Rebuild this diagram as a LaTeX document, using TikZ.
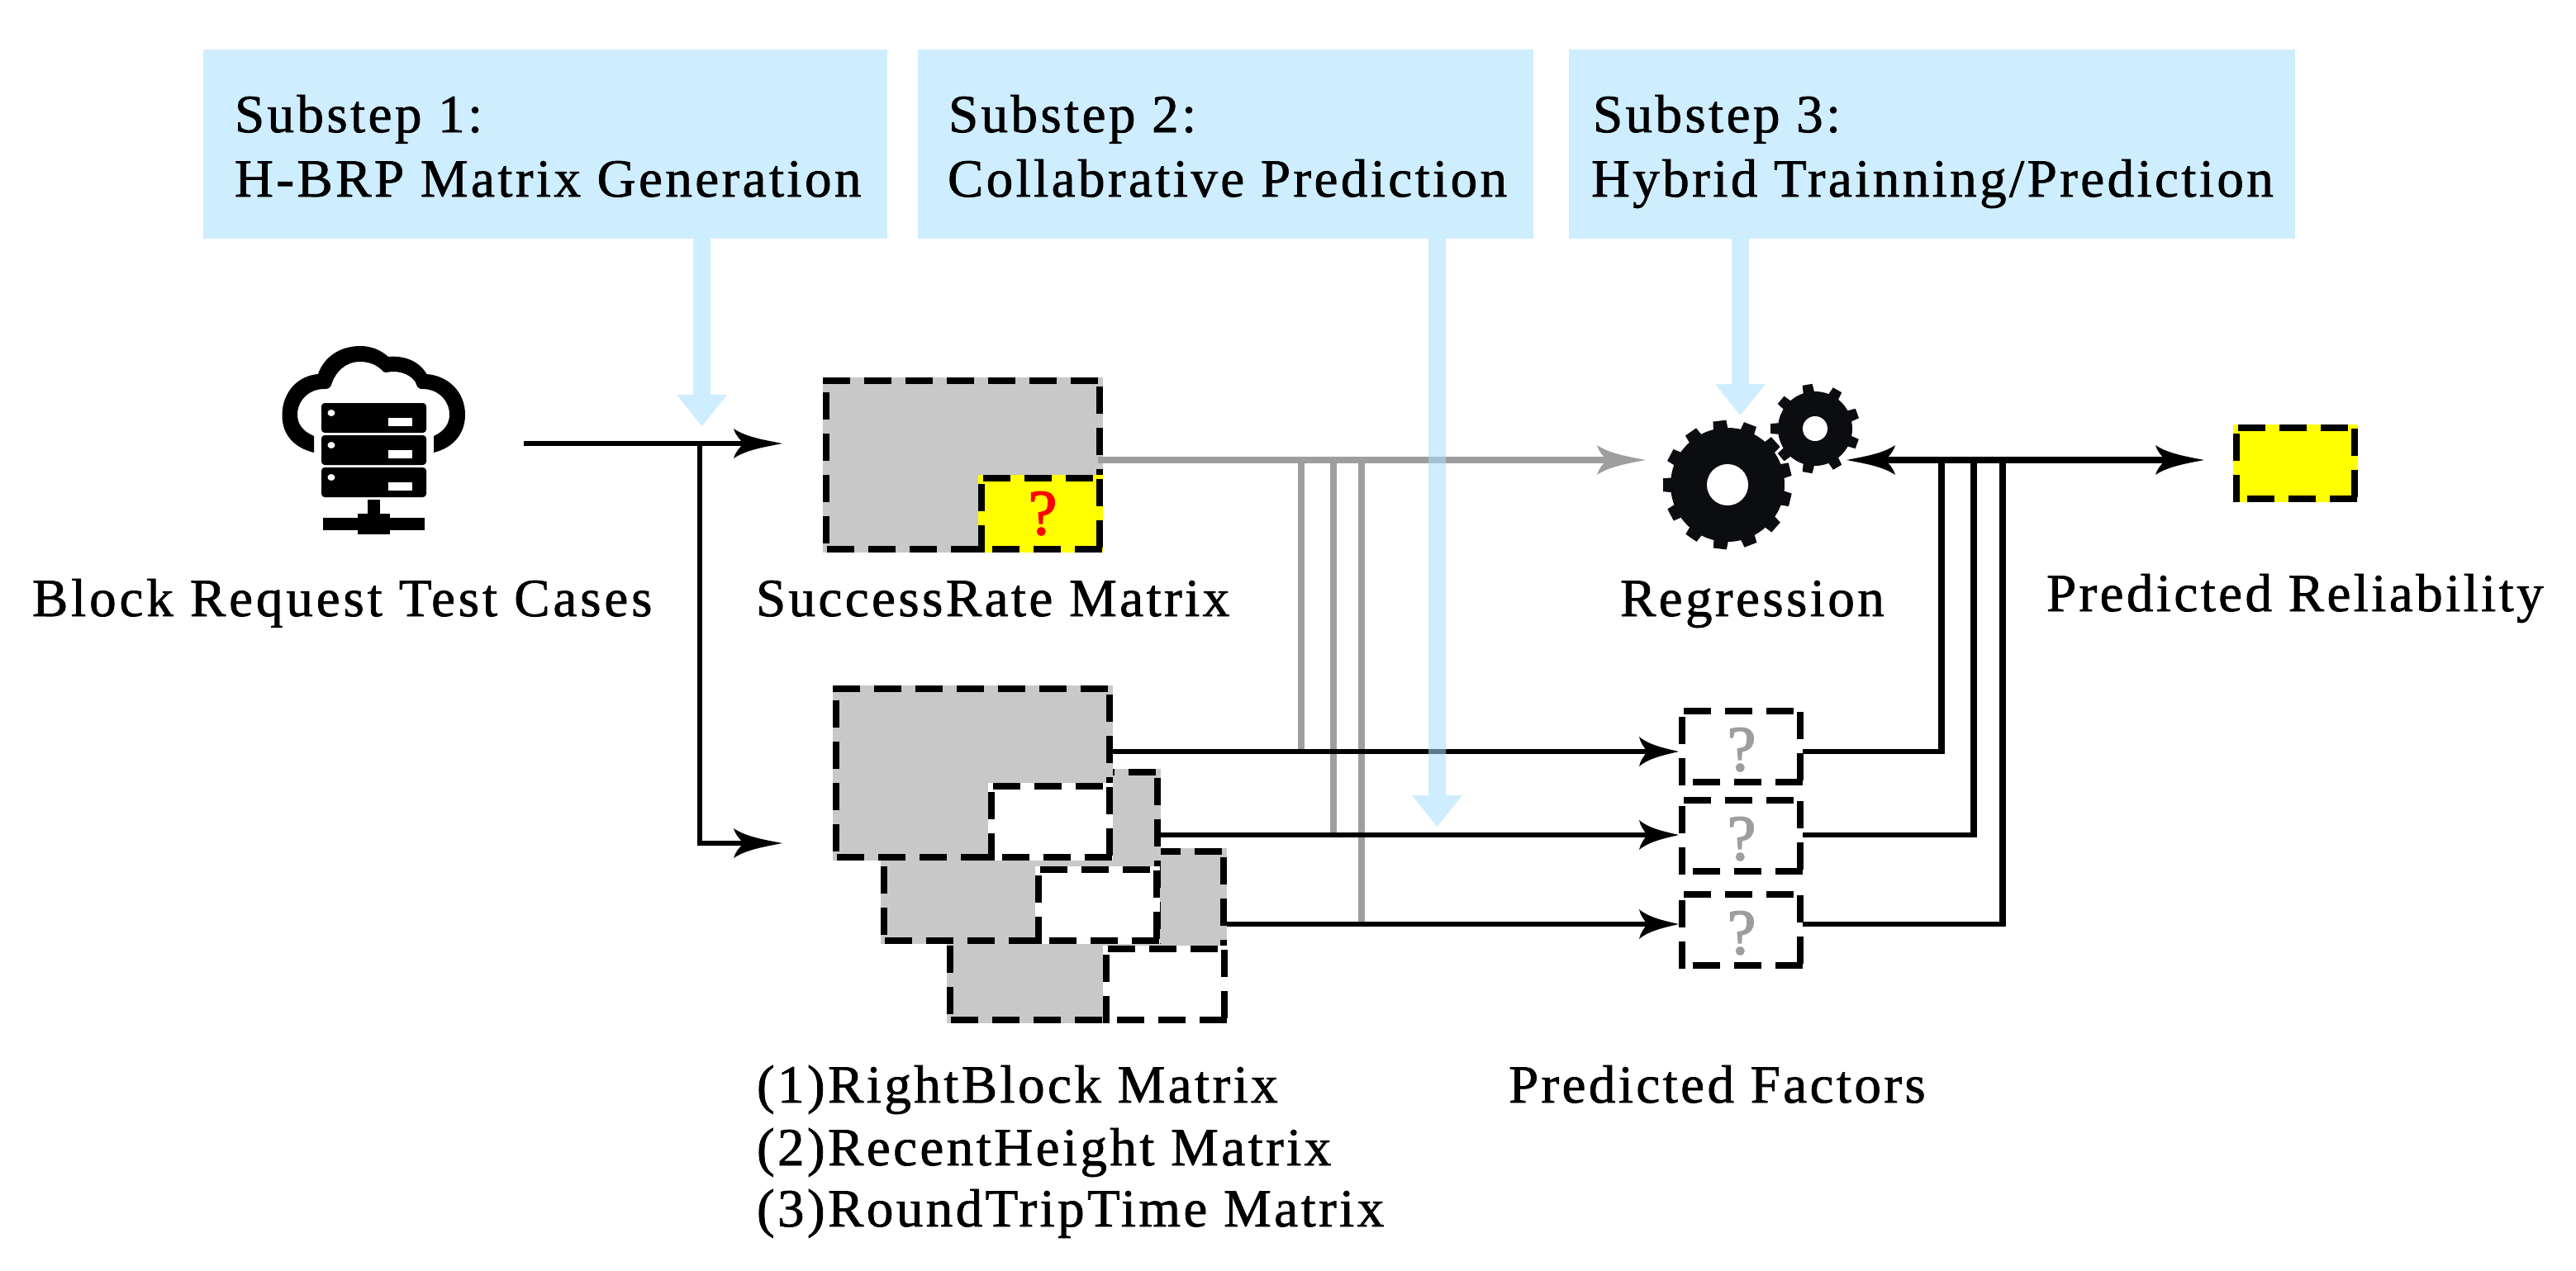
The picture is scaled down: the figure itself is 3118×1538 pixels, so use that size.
\documentclass[tikz,border=0pt]{standalone}
\usepackage{fontspec}
\setmainfont{Liberation Serif}[LetterSpace=5.3,FakeBold=1.2]
\newfontfamily\qfont{Liberation Serif}[FakeBold=2.2]
\usetikzlibrary{arrows.meta}
\definecolor{subblue}{HTML}{CEEDFF}
\definecolor{arrowblue}{HTML}{A6DEFF}
\definecolor{matgrey}{HTML}{C8C8C8}
\definecolor{lnGrey}{HTML}{9E9E9E}
\definecolor{gearc}{HTML}{0C0D10}
\definecolor{pureyellow}{RGB}{255,255,0}
\definecolor{purered}{RGB}{255,0,0}
\pgfdeclarearrow{
  name=Barb,
  parameters={\the\pgfarrowlength,\the\pgfarrowwidth},
  setup code={
    \pgfarrowssettipend{\pgfarrowlength}
    \pgfarrowssetlineend{0.3\pgfarrowlength}
    \pgfarrowssetvisualbackend{0.2\pgfarrowlength}
    \pgfarrowssetbackend{0pt}
    \pgfarrowssavethe\pgfarrowlength
    \pgfarrowssavethe\pgfarrowwidth
  },
  drawing code={
    \pgfpathmoveto{\pgfqpoint{\pgfarrowlength}{0pt}}
    \pgfpathcurveto{\pgfqpoint{0.62\pgfarrowlength}{0.12\pgfarrowwidth}}{\pgfqpoint{0.25\pgfarrowlength}{0.22\pgfarrowwidth}}{\pgfqpoint{0pt}{0.5\pgfarrowwidth}}
    \pgfpathcurveto{\pgfqpoint{0.03\pgfarrowlength}{0.3\pgfarrowwidth}}{\pgfqpoint{0.12\pgfarrowlength}{0.15\pgfarrowwidth}}{\pgfqpoint{0.2\pgfarrowlength}{0pt}}
    \pgfpathcurveto{\pgfqpoint{0.12\pgfarrowlength}{-0.15\pgfarrowwidth}}{\pgfqpoint{0.03\pgfarrowlength}{-0.3\pgfarrowwidth}}{\pgfqpoint{0pt}{-0.5\pgfarrowwidth}}
    \pgfpathcurveto{\pgfqpoint{0.25\pgfarrowlength}{-0.22\pgfarrowwidth}}{\pgfqpoint{0.62\pgfarrowlength}{-0.12\pgfarrowwidth}}{\pgfqpoint{\pgfarrowlength}{0pt}}
    \pgfpathclose
    \pgfusepathqfill
  },
  defaults={length=29.5pt,width=18pt}
}
\tikzset{
  lbl/.style={inner sep=0pt,outer sep=0pt,anchor=base west,font=\fontsize{32.5}{36}\selectfont},
  boxn/.style={inner sep=0pt,outer sep=0pt,anchor=north west,draw=none},
  subbox/.style={boxn,fill=subblue},
  dsh/.style={draw=black,line width=4pt,dash pattern=on 16.5pt off 8.5pt},
  blk/.style={draw=black,line width=3pt},
  blkv/.style={draw=black,line width=4pt},
  gry/.style={draw=lnGrey,line width=3.8pt},
  bigarrow/.style={-{Barb[length=29.5pt,width=18pt]}},
  smallarrow/.style={-{Barb[length=24pt,width=18pt]}},
  qmark/.style={inner sep=0pt,outer sep=0pt,anchor=base,font=\qfont\fontsize{39}{40}\selectfont},
  bluearrow/.style={fill=arrowblue,opacity=.55},
}
% big matrix: x0 y0 name fill
\newcommand{\bigmat}[4]{%
  \node[boxn,fill=#4,minimum width=169.5pt,minimum height=106pt] (#3) at (#1,#2) {};
  \draw[dsh] (#1,#2+4) -- (#1+339,#2+4);
  \draw[dsh] (#1+335,#2+11) -- (#1+335,#2+212);
  \draw[dsh] (#1+5,#2+208) -- (#1+339,#2+208);
  \draw[dsh] (#1+4,#2+201) -- (#1+4,#2+2);
}
% small box: x0 y0 name fill
\newcommand{\smallmat}[4]{%
  \node[boxn,fill=#4,minimum width=75.5pt,minimum height=47pt] (#3) at (#1,#2) {};
  \draw[dsh] (#1+6,#2+4) -- (#1+145,#2+4);
  \draw[dsh] (#1+147,#2+5) -- (#1+147,#2+94);
  \draw[dsh] (#1+17,#2+90) -- (#1+151,#2+90);
  \draw[dsh] (#1+4,#2+94) -- (#1+4,#2+4);
}
\newcommand{\blockdown}[6]{% stem l, stem r, top, base y, head half ext, tip y
  \fill[bluearrow] (#1,#3) -- (#2,#3) -- (#2,#4) -- (#2+#5,#4) -- ({(#1+#2)/2},#6) -- (#1-#5,#4) -- (#1,#4) -- cycle;
}
\begin{document}
\begin{tikzpicture}[x=0.5pt,y=-0.5pt]
\useasboundingbox (0,0) rectangle (3118,1538);
% substep boxes
\node[subbox,minimum width=414pt,minimum height=114.5pt] (s1) at (246,60) {};
\node[subbox,minimum width=372.5pt,minimum height=114.5pt] (s2) at (1111,60) {};
\node[subbox,minimum width=439.5pt,minimum height=114.5pt] (s3) at (1899,60) {};
\node[lbl] (s1a) at (284,160) {Substep 1:};
\node[lbl] (s1b) at (284,238) {H-BRP Matrix Generation};
\node[lbl] (s2a) at (1148,160) {Substep 2:};
\node[lbl] (s2b) at (1147,238) {Collabrative Prediction};
\node[lbl] (s3a) at (1928,160) {Substep 3:};
\node[lbl] (s3b) at (1926,238) {Hybrid Trainning/Prediction};
% cloud-server icon
\fill[black] (380,548) .. controls (355,542) and (341,525) .. (341.5,502)
  .. controls (342,475) and (360,455) .. (385,453)
  .. controls (392,432) and (412,419) .. (436,419)
  .. controls (450,419) and (461,424) .. (470,432)
  .. controls (490,430) and (508,438) .. (516.5,453)
  .. controls (543,455) and (563,475) .. (563,502)
  .. controls (563,525) and (549,542) .. (525,548)
  -- (525,528)
  .. controls (538,522) and (544,513) .. (544,502)
  .. controls (544,485) and (530,471) .. (512,471)
  .. controls (505,471) and (505,468) .. (503,463)
  .. controls (498,455) and (488,450) .. (476,450)
  .. controls (470,450) and (467,452) .. (464,450)
  .. controls (457,442) and (447,438) .. (436,438)
  .. controls (418,438) and (407,450) .. (402,463)
  .. controls (400,470) and (398,471) .. (392,471)
  .. controls (374,471) and (360,485) .. (360,502)
  .. controls (360,513) and (366,522) .. (380,528) -- cycle;
\foreach \yy in {488,527,566}{
  \fill[black,rounded corners=2pt] (389,\yy) rectangle (516,\yy+36);
  \fill[white] (470,\yy+18) rectangle (499,\yy+28);
  \fill[white] (401,\yy+12) circle [x radius=4.5,y radius=4];
}
\fill[black] (445,605) rectangle (460,624);
\fill[black] (433,622) rectangle (472,647);
\fill[black] (391,627) rectangle (514,642);
% matrices
\bigmat{1146}{1027}{m3}{matgrey}
\smallmat{1335}{1145}{w3}{white}
\bigmat{1066}{931}{m2}{matgrey}
\smallmat{1253}{1049}{w2}{white}
\bigmat{1008}{830}{m1}{matgrey}
\smallmat{1196}{948}{w1}{white}
\bigmat{996}{457}{msr}{matgrey}
\smallmat{1184}{575}{ysr}{pureyellow}
\node[qmark,text=purered] (qsr) at (1262,647) {?};
% predicted factors
\smallmat{2032}{857}{f1}{white}
\smallmat{2032}{965}{f2}{white}
\smallmat{2032}{1079}{f3}{white}
\node[qmark,text=lnGrey] (q1) at (2108,933) {?};
\node[qmark,text=lnGrey] (q2) at (2108,1041) {?};
\node[qmark,text=lnGrey] (q3) at (2108,1155) {?};
\smallmat{2703}{514}{yout}{pureyellow}
% gears
\foreach \a in {14,41.7,...,360}{
  \fill[gearc,shift={(2091,587)},rotate=\a] (65,-9) -- (78,-8) -- (78,8) -- (65,9) -- cycle;
}
\fill[gearc] (2091,587) circle [radius=69];
\fill[white] (2091,587) circle [radius=25];
\foreach \a in {20,60,...,380}{
  \draw[white,line width=1.5pt,shift={(2197,519)},rotate=\a] (41,-7) -- (54,-6) -- (54,6) -- (41,7);
}
\draw[white,line width=1.5pt] (2197,519) circle [radius=45];
\foreach \a in {20,60,...,380}{
  \fill[gearc,shift={(2197,519)},rotate=\a] (41,-7) -- (54,-6) -- (54,6) -- (41,7) -- cycle;
}
\fill[gearc] (2197,519) circle [radius=45];
\fill[white] (2197,519) circle [radius=15];
% connector coordinates
\coordinate (srcOut) at (634,537);
\coordinate (srcTip) at (947,537);
\coordinate (srcTurn) at (847,537);
\coordinate (srcLow) at (847,1021);
\coordinate (lowTip) at (947,1021);
\coordinate (srOut) at (1329,557);
\coordinate (srTip) at (1992,557);
\coordinate (v1) at (1575,557);
\coordinate (v2) at (1614,557);
\coordinate (v3) at (1648,557);
\coordinate (m1o) at (1347,910);
\coordinate (m2o) at (1404,1011);
\coordinate (m3o) at (1485,1119);
\coordinate (f1i) at (2032,910);
\coordinate (f2i) at (2032,1011);
\coordinate (f3i) at (2032,1119);
\coordinate (f1o) at (2182,910);
\coordinate (f2o) at (2182,1011);
\coordinate (f3o) at (2182,1119);
\coordinate (c1) at (2350,557);
\coordinate (c2) at (2389,557);
\coordinate (c3) at (2424,557);
\coordinate (gearIn) at (2235,557);
\coordinate (outTip) at (2668,557);
% connectors
\draw[blk,bigarrow] (srcOut) -- (srcTip);
\draw[blk,bigarrow] (srcTurn) -- (srcLow) -- (lowTip);
\draw[gry] (v1) -- (v1 |- m1o);
\draw[gry] (v2) -- (v2 |- m2o);
\draw[gry] (v3) -- (v3 |- m3o);
\draw[gry,bigarrow] (srOut) -- (srTip);
\draw[blk,smallarrow] (m1o) -- (f1i);
\draw[blk,smallarrow] (m2o) -- (f2i);
\draw[blk,smallarrow] (m3o) -- (f3i);
\draw[blkv] (c1) -- (c1 |- f1o);
\draw[blkv] (c2) -- (c2 |- f2o);
\draw[blkv] (c3) -- (c3 |- f3o);
\draw[blk] (f1o) -- ([xshift=2pt]c1 |- f1o);
\draw[blk] (f2o) -- ([xshift=2pt]c2 |- f2o);
\draw[blk] (f3o) -- ([xshift=2pt]c3 |- f3o);
\draw[blk,line width=3.6pt,{Barb[length=29.5pt,width=18pt]}-{Barb[length=29.5pt,width=18pt]}] (gearIn) -- (outTip);
% pale blue arrows
\blockdown{839}{860}{289}{478}{20}{516}
\blockdown{1729}{1750}{289}{963}{20}{1001}
\blockdown{2096}{2117}{289}{465}{20}{503}
% labels
\node[lbl] (lsrc) at (39,746) {\addfontfeature{LetterSpace=6}Block Request Test Cases};
\node[lbl] (lsr) at (915,746) {SuccessRate Matrix};
\node[lbl] (lreg) at (1961,746) {Regression};
\node[lbl] (lrel) at (2477,740) {Predicted Reliability};
\node[lbl] (lm1) at (916,1335) {(1)RightBlock Matrix};
\node[lbl] (lm2) at (916,1411) {(2)RecentHeight Matrix};
\node[lbl] (lm3) at (916,1485) {(3)RoundTripTime Matrix};
\node[lbl] (lpf) at (1826,1335) {Predicted Factors};
\end{tikzpicture}
\end{document}
